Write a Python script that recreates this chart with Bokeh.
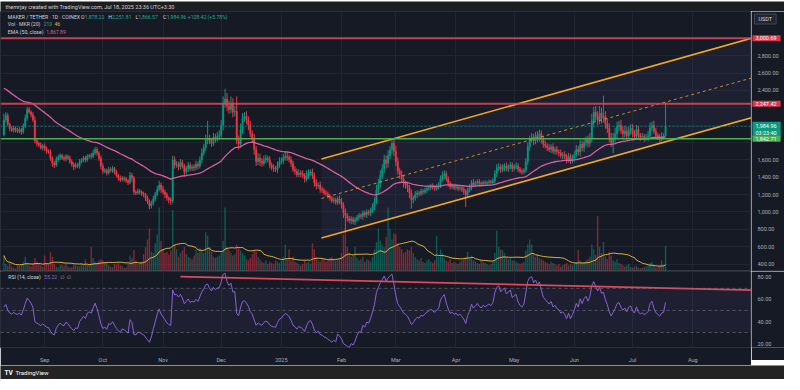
import datetime as dt
import pandas as pd
from bokeh.plotting import figure
from bokeh.layouts import column, row
from bokeh.core.properties import value
from bokeh.models import (Range1d, FixedTicker, Label, Span, BoxAnnotation, ColumnDataSource)
from bokeh.embed import file_html
from bokeh.resources import INLINE

# ---------------- data ----------------
first_day = dt.date(2024, 8, 11)
first_open = 1890.0

month_starts = [(2024, 8, 11), (2024, 9, 1), (2024, 10, 1), (2024, 11, 1), (2024, 12, 1),
                (2025, 1, 1), (2025, 2, 1), (2025, 3, 1), (2025, 4, 1), (2025, 5, 1),
                (2025, 6, 1), (2025, 7, 1)]

aug_close = [2060, 2110, 2010, 1960, 1940, 1965, 1945, 1930, 1950, 1920, 1990, 2080, 2180, 2150, 2120, 2060, 1820, 1790, 1770, 1740, 1760]
sep_close = [1730, 1700, 1690, 1620, 1560, 1540, 1600, 1630, 1650, 1620, 1610, 1640, 1620, 1580, 1550, 1520, 1540, 1530, 1580, 1600, 1620, 1600, 1640, 1650, 1640, 1680, 1720, 1680, 1620, 1530]
oct_close = [1470, 1480, 1450, 1490, 1480, 1500, 1460, 1420, 1390, 1370, 1390, 1380, 1360, 1340, 1420, 1390, 1230, 1220, 1240, 1230, 1210, 1200, 1160, 1120, 1070, 1100, 1150, 1200, 1260, 1310, 1260]
nov_close = [1230, 1200, 1160, 1140, 1130, 1600, 1540, 1550, 1520, 1570, 1530, 1460, 1500, 1540, 1500, 1520, 1510, 1550, 1530, 1600, 1680, 1740, 1830, 1850, 1810, 1790, 1860, 1840, 1870, 1880]
dec_close = [2000, 2250, 2300, 2220, 2180, 2250, 2150, 2160, 1820, 1780, 1950, 2080, 2100, 2060, 2000, 1900, 1850, 1720, 1580, 1620, 1580, 1560, 1600, 1620, 1600, 1540, 1510, 1500, 1490, 1540, 1580]
jan_close = [1590, 1620, 1640, 1630, 1600, 1560, 1490, 1470, 1430, 1450, 1440, 1420, 1380, 1420, 1450, 1460, 1420, 1340, 1300, 1310, 1260, 1250, 1220, 1210, 1180, 1160, 1130, 1140, 1110, 1150, 1120]
feb_close = [1080, 990, 960, 930, 900, 920, 890, 910, 940, 960, 950, 990, 970, 1000, 990, 1020, 1060, 1120, 1250, 1330, 1420, 1500, 1600, 1560, 1650, 1720, 1790, 1700]
mar_close = [1580, 1470, 1430, 1380, 1330, 1310, 1280, 1220, 1140, 1160, 1200, 1220, 1210, 1240, 1230, 1250, 1270, 1280, 1300, 1280, 1270, 1290, 1300, 1380, 1420, 1440, 1380, 1330, 1290, 1300, 1280]
apr_close = [1290, 1270, 1280, 1260, 1240, 1200, 1250, 1280, 1340, 1310, 1330, 1350, 1330, 1320, 1340, 1330, 1340, 1350, 1340, 1360, 1440, 1500, 1520, 1490, 1510, 1530, 1500, 1520, 1540, 1500]
may_close = [1520, 1530, 1490, 1470, 1460, 1480, 1580, 1750, 1840, 1860, 1820, 1880, 1850, 1900, 1840, 1780, 1760, 1740, 1720, 1750, 1700, 1720, 1690, 1680, 1650, 1660, 1640, 1600, 1640, 1590, 1620]
jun_close = [1660, 1720, 1690, 1780, 1740, 1800, 1830, 1790, 1850, 2050, 2150, 2100, 2060, 2140, 2080, 2100, 2020, 1960, 1860, 1800, 1850, 1900, 1980, 2000, 1940, 1900, 1930, 1880, 1940, 1960]
jul_close = [1900, 1870, 1950, 1880, 1860, 1870, 1850, 1860, 1880, 1970, 2000, 1930, 1880, 1860, 1840, 1870, 1876.54, 1984.96]

aug_vol = [130, 60, 45, 70, 40, 30, 25, 50, 45, 60, 80, 120, 70, 50, 40, 60, 110, 80, 60, 50, 40]
sep_vol = [130, 70, 60, 160, 120, 60, 40, 35, 50, 55, 45, 60, 40, 30, 35, 55, 50, 45, 40, 60, 50, 100, 55, 60, 200, 110, 80, 60, 90, 100]
oct_vol = [90, 80, 70, 50, 40, 35, 60, 55, 70, 50, 45, 30, 35, 60, 130, 110, 175, 90, 60, 70, 80, 140, 200, 260, 350, 160, 150, 230, 300, 520, 250]
nov_vol = [180, 150, 160, 140, 170, 500, 220, 180, 120, 150, 170, 200, 140, 120, 110, 100, 130, 180, 150, 190, 170, 150, 320, 290, 200, 160, 120, 110, 120, 130]
dec_vol = [150, 250, 520, 200, 170, 150, 130, 140, 220, 190, 170, 150, 130, 100, 90, 110, 140, 170, 160, 120, 100, 80, 70, 90, 60, 80, 70, 60, 90, 80, 70]
jan_vol = [90, 120, 220, 100, 180, 90, 120, 80, 70, 60, 50, 60, 90, 70, 80, 60, 230, 180, 120, 90, 80, 110, 100, 80, 90, 110, 120, 100, 90, 100, 110]
feb_vol = [150, 300, 350, 200, 150, 120, 130, 200, 110, 90, 100, 120, 80, 100, 90, 80, 120, 180, 240, 350, 250, 220, 200, 280, 520, 350, 260, 310]
mar_vol = [300, 230, 200, 180, 150, 160, 180, 170, 200, 150, 120, 100, 90, 110, 80, 70, 90, 100, 80, 70, 90, 290, 120, 180, 150, 110, 90, 80, 100, 70, 80]
apr_vol = [70, 60, 80, 90, 100, 120, 160, 110, 130, 90, 80, 70, 60, 90, 80, 70, 60, 50, 60, 80, 150, 330, 200, 180, 175, 150, 120, 100, 110, 90]
may_vol = [90, 80, 70, 60, 70, 80, 170, 220, 260, 220, 150, 120, 140, 110, 100, 90, 80, 70, 60, 80, 70, 60, 50, 60, 40, 50, 60, 70, 50, 60, 50]
jun_vol = [60, 80, 175, 90, 70, 80, 90, 100, 120, 220, 180, 135, 450, 200, 150, 240, 120, 100, 160, 130, 90, 80, 100, 70, 60, 50, 40, 50, 60, 40]
jul_vol = [30, 40, 45, 30, 25, 30, 35, 40, 45, 70, 80, 45, 30, 35, 45, 90, 50, 210]

# upper / lower wick lengths (price units)
aug_up = [70, 40, 30, 20, 30, 25, 20, 25, 30, 20, 30, 40, 30, 25, 20, 30, 40, 30, 20, 30, 25]
aug_dn = [20, 30, 25, 30, 20, 25, 30, 20, 25, 30, 20, 25, 30, 20, 30, 25, 30, 35, 25, 20, 30]
sep_up = [30, 25, 20, 30, 20, 25, 40, 30, 25, 20, 30, 25, 20, 30, 25, 20, 30, 25, 30, 20, 25, 30, 25, 20, 30, 40, 30, 25, 20, 30]
sep_dn = [25, 30, 20, 30, 40, 35, 20, 25, 30, 20, 25, 30, 20, 25, 30, 35, 20, 25, 30, 20, 25, 30, 20, 25, 30, 20, 25, 30, 30, 40]
oct_up = [30, 25, 20, 30, 25, 30, 20, 25, 20, 30, 25, 20, 25, 20, 40, 30, 25, 20, 30, 25, 20, 25, 20, 30, 25, 30, 35, 30, 40, 50, 30]
oct_dn = [30, 25, 30, 20, 25, 30, 25, 20, 30, 25, 20, 30, 25, 30, 20, 40, 30, 25, 20, 30, 25, 30, 35, 30, 40, 30, 25, 30, 20, 25, 40]
nov_up = [40, 30, 25, 20, 30, 50, 40, 35, 30, 40, 30, 25, 30, 35, 30, 25, 30, 40, 30, 40, 50, 40, 60, 200, 40, 40, 50, 40, 50, 60]
nov_dn = [30, 40, 30, 40, 50, 30, 40, 30, 40, 30, 30, 50, 30, 40, 30, 30, 40, 30, 40, 30, 40, 30, 40, 50, 30, 40, 30, 40, 30, 40]
dec_up = [60, 80, 120, 70, 60, 80, 60, 60, 170, 60, 70, 60, 50, 60, 40, 50, 40, 50, 40, 60, 50, 40, 50, 40, 30, 40, 30, 40, 30, 40, 50]
dec_dn = [40, 60, 50, 60, 50, 40, 60, 50, 40, 60, 40, 50, 40, 50, 60, 40, 50, 60, 50, 40, 50, 40, 30, 40, 30, 40, 30, 40, 30, 40, 30]
jan_up = [40, 50, 60, 40, 30, 40, 30, 40, 30, 40, 30, 40, 30, 60, 40, 30, 40, 30, 40, 30, 40, 30, 25, 30, 25, 30, 25, 30, 25, 30, 40]
jan_dn = [30, 40, 30, 40, 30, 40, 30, 40, 30, 30, 40, 30, 40, 30, 40, 30, 40, 50, 40, 30, 40, 30, 25, 30, 25, 30, 25, 30, 25, 30, 30]
feb_up = [40, 30, 50, 30, 25, 30, 25, 30, 25, 30, 25, 30, 25, 30, 25, 30, 40, 50, 60, 50, 60, 50, 60, 50, 60, 40, 34, 50]
feb_dn = [40, 60, 175, 40, 30, 40, 30, 40, 30, 40, 30, 40, 30, 40, 30, 40, 30, 40, 30, 40, 50, 40, 50, 60, 50, 40, 50, 60]
mar_up = [60, 50, 40, 50, 40, 30, 40, 30, 40, 30, 40, 30, 25, 30, 25, 30, 25, 30, 25, 30, 25, 30, 40, 40, 46, 40, 30, 30, 25, 30, 25]
mar_dn = [50, 40, 50, 40, 50, 40, 50, 60, 101, 40, 30, 40, 30, 25, 30, 25, 30, 25, 30, 25, 30, 25, 30, 25, 30, 40, 30, 40, 30, 25, 30]
apr_up = [30, 25, 30, 25, 30, 25, 30, 40, 30, 40, 30, 25, 30, 25, 20, 25, 20, 25, 20, 30, 40, 50, 40, 30, 40, 30, 40, 30, 40, 30]
apr_dn = [25, 30, 25, 30, 40, 145, 30, 25, 30, 25, 20, 25, 30, 25, 20, 25, 20, 25, 20, 25, 30, 40, 30, 40, 30, 40, 30, 40, 30, 40]
may_up = [30, 40, 30, 25, 30, 25, 40, 50, 40, 50, 40, 40, 50, 50, 40, 30, 40, 30, 40, 30, 40, 30, 40, 30, 40, 30, 40, 30, 40, 30, 40]
may_dn = [30, 25, 30, 25, 30, 25, 30, 40, 50, 40, 50, 40, 50, 40, 50, 40, 30, 40, 30, 40, 30, 40, 30, 40, 30, 40, 30, 40, 30, 40, 30]
jun_up = [40, 50, 40, 50, 40, 50, 40, 50, 60, 80, 60, 70, 60, 80, 60, 240, 60, 50, 60, 50, 60, 70, 60, 50, 60, 50, 60, 50, 40, 50]
jun_dn = [40, 30, 40, 50, 40, 50, 40, 50, 40, 50, 60, 50, 60, 50, 60, 50, 60, 50, 60, 50, 122, 50, 60, 50, 40, 50, 40, 50, 40, 50]
jul_up = [50, 40, 50, 40, 30, 40, 30, 40, 50, 60, 40, 50, 40, 30, 40, 50, 30, 266.85]
jul_dn = [40, 30, 40, 30, 40, 30, 40, 30, 40, 30, 40, 30, 40, 30, 40, 30, 40, 9.97]

ema_seed = 2440.0          # EMA(50) value just before the first bar
rsi_seed_gain = 30.0       # Wilder averages just before the first bar
rsi_seed_loss = 38.0

tick_months = [(2024, 9, 1), (2024, 10, 1), (2024, 11, 1), (2024, 12, 1), (2025, 1, 1), (2025, 2, 1),
               (2025, 3, 1), (2025, 4, 1), (2025, 5, 1), (2025, 6, 1), (2025, 7, 1), (2025, 8, 1)]
tick_labels = ["Sep", "Oct", "Nov", "Dec", "2025", "Feb", "Mar", "Apr", "May", "Jun", "Jul", "Aug"]
price_ticks = [400, 600, 800, 1000, 1200, 1400, 1600, 2400, 2600, 2800]
price_grid = [400, 600, 800, 1000, 1200, 1400, 1600, 1800, 2000, 2200, 2400, 2600, 2800, 3000]
rsi_ticks = [20, 40, 60, 80]
rsi_bands = [70, 50, 30]

level_red = [3000.69, 2247.42]
level_green = 1842.71
last_price = 1984.96

chan_dates = [dt.datetime(2025, 1, 21, 16), dt.datetime(2025, 8, 31, 7)]
chan_upper = [1611, 3000]
chan_lower = [700, 2085]

rsi_tl_dates = [dt.datetime(2024, 11, 10), dt.datetime(2025, 8, 31, 7)]
rsi_tl_vals = [80.6, 68.4]

view_start = dt.datetime(2024, 8, 9, 6)
view_end = dt.datetime(2025, 8, 31, 7)

# ---------------- assemble ----------------
close_m = [aug_close, sep_close, oct_close, nov_close, dec_close, jan_close, feb_close, mar_close, apr_close, may_close, jun_close, jul_close]
vol_m = [aug_vol, sep_vol, oct_vol, nov_vol, dec_vol, jan_vol, feb_vol, mar_vol, apr_vol, may_vol, jun_vol, jul_vol]
up_m = [aug_up, sep_up, oct_up, nov_up, dec_up, jan_up, feb_up, mar_up, apr_up, may_up, jun_up, jul_up]
dn_m = [aug_dn, sep_dn, oct_dn, nov_dn, dec_dn, jan_dn, feb_dn, mar_dn, apr_dn, may_dn, jun_dn, jul_dn]

t0 = dt.datetime(first_day.year, first_day.month, first_day.day)


def dayx(d):
    if isinstance(d, dt.date) and not isinstance(d, dt.datetime):
        d = dt.datetime(d.year, d.month, d.day)
    return (d - t0).total_seconds() / 86400.0


xs, closes, vols, wu, wd = [], [], [], [], []
for (y, m, d), cm, vm, um, dm in zip(month_starts, close_m, vol_m, up_m, dn_m):
    start = dt.date(y, m, d)
    for i in range(len(cm)):
        xs.append(dayx(start + dt.timedelta(days=i)))
    closes += cm
    vols += vm
    wu += um
    wd += dm

opens = [first_open] + closes[:-1]
highs = [max(o, c) + u for o, c, u in zip(opens, closes, wu)]
lows = [min(o, c) - w for o, c, w in zip(opens, closes, wd)]

UP = "#089981"
DN = "#f23645"
colors = [UP if c >= o else DN for o, c in zip(opens, closes)]

alpha = 2.0 / 51.0
ema, e = [], ema_seed
for c in closes:
    e = e + alpha * (c - e)
    ema.append(e)

rsi, ag, al, prev = [], rsi_seed_gain, rsi_seed_loss, first_open
for c in closes:
    ch = c - prev
    ag = (ag * 13 + max(ch, 0)) / 14
    al = (al * 13 + max(-ch, 0)) / 14
    rsi.append(100 - 100 / (1 + ag / al))
    prev = c

vol_ma = list(pd.Series(vols, dtype=float).rolling(20, min_periods=1).mean())

src = ColumnDataSource(dict(x=xs, o=opens, c=closes, h=highs, l=lows,
                            top=[max(o, c) for o, c in zip(opens, closes)],
                            bot=[min(o, c) for o, c in zip(opens, closes)],
                            color=colors, vol=vols, vma=vol_ma, ema=ema, rsi=rsi))

# ---------------- style ----------------
FONT = "Roboto"
FS = "5.5px"
LFS = "5.1px"
BG = "#161a25"
GRID = "#212533"
TXT = "#a9acb5"
ORANGE = "#f5a524"
RED = "#e0475c"
BORDER = "#2a2e39"
FW, SW, HM, HR, XB = 751, 33, 260, 76, 13
BOXPAD = dict(left=3, right=4, top=1, bottom=1)

xr = Range1d(dayx(view_start), dayx(view_end))
tick_x = [dayx(dt.date(*t)) for t in tick_months]


def lab(fig, x, y, text, color, size=LFS, yu="screen", font=FONT, **kw):
    fig.add_layout(Label(x=x, y=y, x_units="screen", y_units=yu, text=text, text_color=color,
                         text_font=font, text_font_size=size, text_baseline="middle", **kw))


def blank(width, height, bg, yr=None, border_bottom=0):
    f = figure(frame_width=width, frame_height=height, x_range=Range1d(0, width),
               y_range=yr if yr is not None else Range1d(0, height),
               x_axis_location=None, y_axis_location=None, toolbar_location=None,
               min_border=0, min_border_bottom=border_bottom, output_backend="svg")
    f.grid.visible = False
    f.background_fill_color = bg
    f.border_fill_color = bg
    f.outline_line_color = None
    return f


# header
hdr = blank(FW + SW, 11, "#1d1e21")
lab(hdr, 5, 5.3, "themrjay created with TradingView.com, Jul 18, 2025 23:36 UTC+3:30", "#d1d4dc",
    size="5.5px")

# main pane
p = figure(frame_width=FW, frame_height=HM, x_range=xr, y_range=Range1d(315, 3308),
           x_axis_location=None, y_axis_location=None, toolbar_location=None,
           min_border=0, output_backend="svg")
p.extra_y_ranges = {"vol": Range1d(0, 2114)}
p.background_fill_color = BG
p.border_fill_color = BG
p.outline_line_color = BORDER
p.xgrid.ticker = FixedTicker(ticks=tick_x)
p.xgrid.grid_line_color = GRID
p.ygrid.ticker = FixedTicker(ticks=price_grid)
p.ygrid.grid_line_color = GRID

# channel fill
chan_x = [dayx(d) for d in chan_dates]
p.patch(chan_x + chan_x[::-1], chan_upper + chan_lower[::-1], fill_color="#7074d8",
        fill_alpha=0.07, line_color=None)
chan_mid = [(a + b) / 2 for a, b in zip(chan_upper, chan_lower)]

# volume
p.vbar(x="x", width=0.72, top="vol", bottom=0, fill_color="color", fill_alpha=0.5,
       line_color=None, y_range_name="vol", source=src)
p.line("x", "vma", line_color="#e2b33a", line_width=1, y_range_name="vol", source=src)

# horizontal levels
for lv in level_red:
    p.add_layout(Span(location=lv, dimension="width", line_color=RED, line_width=2, line_alpha=0.85))
p.add_layout(Span(location=level_green, dimension="width", line_color="#4caf50", line_width=1.4))
p.add_layout(Span(location=last_price, dimension="width", line_color=UP, line_width=1,
                  line_dash="2 2", line_alpha=0.7))

# candles
p.segment(x0="x", y0="h", x1="x", y1="l", line_color="color", line_width=1, source=src)
p.vbar(x="x", width=0.72, top="top", bottom="bot", fill_color="color", line_color="color",
       line_width=0.4, source=src)

# EMA
p.line("x", "ema", line_color="#d65f9f", line_width=1.3, source=src)

# channel lines
p.line(chan_x, chan_upper, line_color=ORANGE, line_width=1.6)
p.line(chan_x, chan_lower, line_color=ORANGE, line_width=1.6)
p.line(chan_x, chan_mid, line_color=ORANGE, line_width=1, line_dash="3 3", line_alpha=0.8)

p.add_layout(Span(location=315, dimension="width", line_color="#434651", line_width=2))

# legend texts
sx = FW / 766.0
L1, L2, L3 = HM - 5.5, HM - 12.5, HM - 20
lab(p, 7.5 * sx, L1, "MAKER / TETHER · 1D · COINEX", "#d1d4dc")
for letter, lx, val, vx in [("O", 82, "1,878.22", 86), ("H", 110, "2,251.81", 113.7),
                            ("L", 137.7, "1,866.57", 140.5), ("C", 165.7, "1,984.96", 169.5)]:
    lab(p, lx * sx, L1, letter, "#d1d4dc")
    lab(p, vx * sx, L1, val, "#22ab94")
lab(p, 191 * sx, L1, "+108.42 (+5.78%)", "#22ab94")
lab(p, 7.5 * sx, L2, "Vol · MKR (20)", "#d1d4dc")
lab(p, 44 * sx, L2, "210", "#22ab94")
lab(p, 55 * sx, L2, "46", "#e2b33a")
lab(p, 7.5 * sx, L3, "EMA (50, close)", "#d1d4dc")
lab(p, 46.7 * sx, L3, "1,867.89", "#d65f9f")

# price scale column
ps = blank(SW, HM, BG, yr=p.y_range)
ps.text(x=6, y=price_ticks, text=[f"{v:,.2f}" for v in price_ticks], text_font=value(FONT),
        text_font_size=value(FS), text_color=TXT, text_baseline="middle")
ps.add_layout(Span(location=315, dimension="width", line_color="#434651", line_width=2))
lab(ps, 3, HM - 7.5, "USDT", "#d1d4dc", size=FS, background_fill_color="#22252f",
    border_line_color="#434651", padding=dict(left=4, right=4, top=2, bottom=2))
for lv in level_red:
    lab(ps, 1, lv, f"{lv:,.2f}", "#ffffff", size=FS, yu="data",
        background_fill_color="#e0364b", padding=BOXPAD)
lab(ps, 1, last_price, f"{last_price:,.2f}\n03:23:40", "#ffffff", size=FS, yu="data",
    background_fill_color="#089981", padding=BOXPAD, y_offset=-3)
lab(ps, 1, level_green, f"{level_green:,.2f}", "#ffffff", size=FS, yu="data",
    background_fill_color="#4caf50", padding=BOXPAD)

# RSI pane
r = figure(frame_width=FW, frame_height=HR, x_range=xr, y_range=Range1d(16.5, 85.2),
           y_axis_location=None, toolbar_location=None, min_border=0,
           min_border_bottom=XB, output_backend="svg")
r.background_fill_color = BG
r.border_fill_color = BG
r.outline_line_color = BORDER
r.xgrid.ticker = FixedTicker(ticks=tick_x)
r.xgrid.grid_line_color = GRID
r.ygrid.grid_line_color = None
r.add_layout(BoxAnnotation(bottom=30, top=70, fill_color="#7e57c2", fill_alpha=0.09,
                           line_color=None, level="underlay"))
for b in rsi_bands:
    r.add_layout(Span(location=b, dimension="width", line_color="#787b86", line_width=1,
                      line_dash="3 3", line_alpha=0.6))
r.line("x", "rsi", line_color="#8763d6", line_width=1, source=src)
r.line([dayx(d) for d in rsi_tl_dates], rsi_tl_vals, line_color=RED, line_width=1.8)

rx = r.xaxis[0]
rx.ticker = FixedTicker(ticks=tick_x)
rx.major_label_overrides = {tx: lb for tx, lb in zip(tick_x, tick_labels)}
rx.major_label_text_font = FONT
rx.major_label_text_font_size = FS
rx.major_label_text_color = TXT
rx.axis_line_color = None
rx.major_tick_line_color = None
rx.minor_tick_line_color = None
rx.major_label_standoff = 3

RL = HR - 5
lab(r, 8 * sx, RL, "RSI (14, close)", "#d1d4dc")
lab(r, 44.7 * sx, RL, "55.22", "#8763d6")
lab(r, 61 * sx, RL, "∅", "#9598a1", font="DejaVu Sans")
lab(r, 67.5 * sx, RL, "∅", "#9598a1", font="DejaVu Sans")

rs = blank(SW, HR, BG, yr=r.y_range, border_bottom=XB)
rs.text(x=6, y=rsi_ticks, text=[f"{v:.2f}" for v in rsi_ticks], text_font=value(FONT),
        text_font_size=value(FS), text_color=TXT, text_baseline="middle")

# footer
ftr = blank(FW + SW, 14, "#232323")
lab(ftr, 4, 7, "TV", "#ffffff", size="6.5px", text_font_style="bold")
lab(ftr, 15, 7, "TradingView", "#ffffff", size="6px")

layout = column(hdr, row(p, ps, spacing=0), row(r, rs, spacing=0), ftr, spacing=0)
open("out.html", "w").write(file_html(layout, INLINE))
